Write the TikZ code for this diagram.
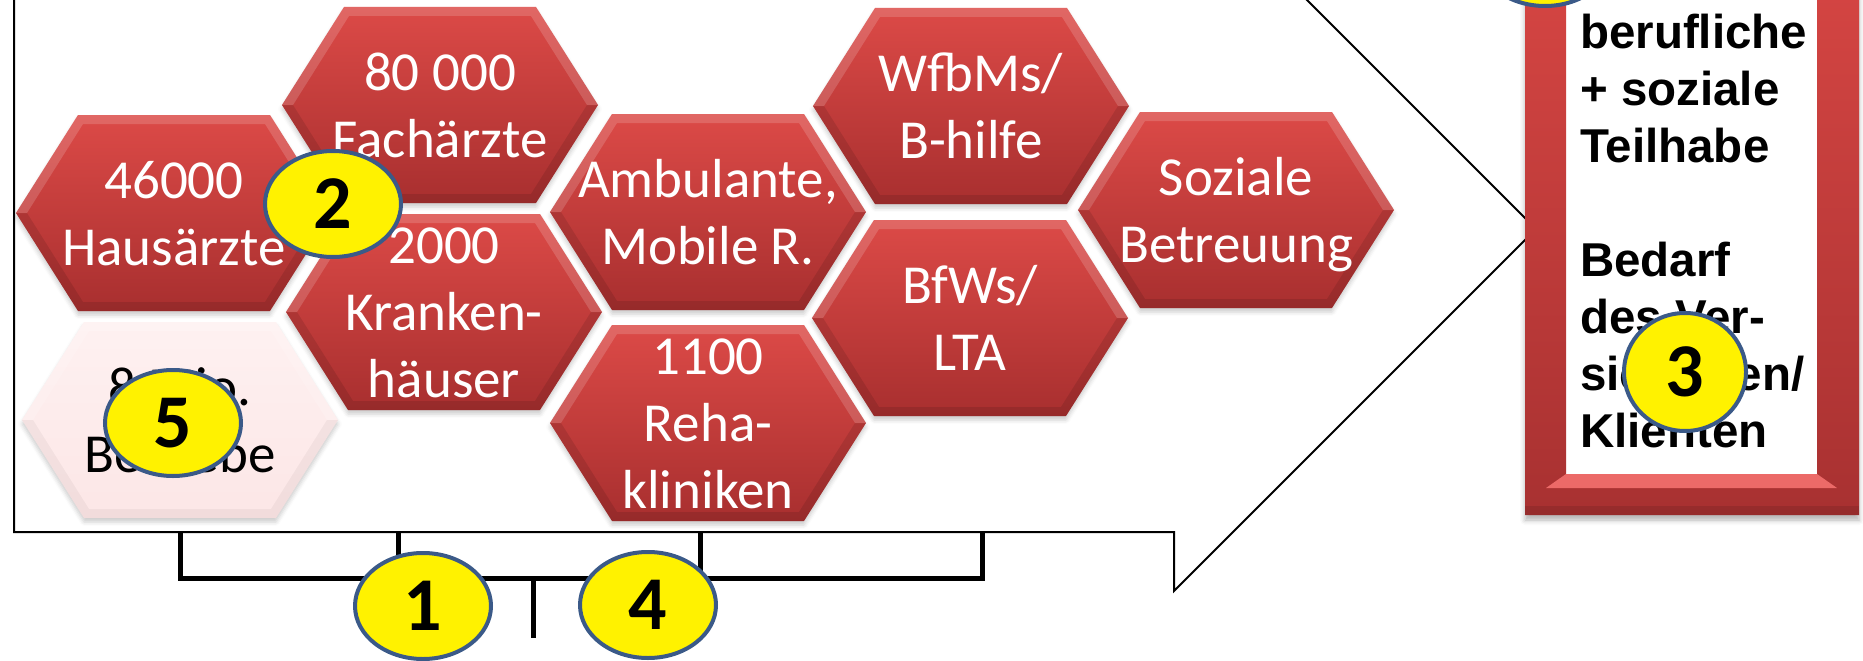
\documentclass[tikz,border=0pt]{standalone}
\usepackage{fontspec}
\setmainfont{Carlito}
\newfontfamily\boxfont{Liberation Sans}
\usetikzlibrary{shapes.geometric,shadows.blur}

\definecolor{hexTop}{HTML}{DC4A47}
\definecolor{hexBottom}{HTML}{A82F2F}
\definecolor{paleTop}{HTML}{FEF1F1}
\definecolor{paleBottom}{HTML}{FCE6E6}
\definecolor{badgeRim}{HTML}{3B5A88}
\definecolor{frameTop}{HTML}{DB4845}
\definecolor{frameBottom}{HTML}{A83131}
\definecolor{frameLight}{HTML}{EC6A68}

\newcommand\hexfont{\fontsize{55}{67}\selectfont}
\newcommand\badgefont{\fontsize{76}{80}\selectfont\bfseries}
% struts fix the baseline positions of every label line
\newcommand\hexstrut{\rule[-15pt]{0pt}{67pt}}
\newcommand\boxstrut{\rule[-14pt]{0pt}{57pt}}

% bevelled hexagon with a centred label: name, x, y, look, text
\newcommand\hexcell[5]{%
  \begin{scope}[shift={(#2,#3)}]
    \path[#4, hexshadow] (-158,0) -- (-96,-98) -- (96,-98) -- (158,0)
      -- (96,98) -- (-96,98) -- cycle;
    \fill[white, opacity=.16] (-158,0) -- (-96,-98) -- (96,-98) -- (158,0)
      -- (147,0) -- (91,-89) -- (-91,-89) -- (-147,0) -- cycle;
    \fill[#4 shade] (-158,0) -- (-96,98) -- (96,98) -- (158,0)
      -- (147,0) -- (91,89) -- (-91,89) -- (-147,0) -- cycle;
  \end{scope}
  \node[hexlabel, #4 text] (#1) at (#2,#3) {#5};
}

\begin{document}
\begin{tikzpicture}[x=1pt, y=-1pt,
  hexred/.style={top color=hexTop, bottom color=hexBottom},
  hexpale/.style={top color=paleTop, bottom color=paleBottom},
  hexred text/.style={text=white},
  hexpale text/.style={text=black},
  hexred shade/.style={black, opacity=.10},
  hexpale shade/.style={black, opacity=.04},
  hexshadow/.style={blur shadow={shadow xshift=0pt, shadow yshift=-4pt,
      shadow blur radius=4pt, shadow opacity=20}},
  hexlabel/.style={inner sep=0pt, align=center, font=\hexfont},
  boxtext/.style={inner sep=0pt, align=left,
      font={\boxfont\bfseries\fontsize{47.5}{57}\selectfont}},
  badge/.style={ellipse, fill=yellow, draw=badgeRim, line width=4pt,
      minimum width=136pt, minimum height=106pt, inner sep=0pt,
      font=\badgefont},
  outline/.style={line width=2pt, black, line join=miter},
  bracket/.style={line width=5pt, black},
]
\useasboundingbox (0,0) rectangle (1863,661);
\clip (0,0) rectangle (1863,661);

% large arrow enclosing the providers
\draw[outline] (14,-74) -- (14,532) -- (1174,532) -- (1174,591)
  -- (1536,229) -- (1174,-133) -- (1174,-74) -- cycle;

% providers
\hexcell{haus}{174}{213}{hexred}{\hexstrut 46000\\\hexstrut Hausärzte}
\hexcell{fach}{440}{105}{hexred}{\hexstrut 80 000\\\hexstrut Fachärzte}
\hexcell{kh}{444}{312}{hexred}{\hexstrut 2000\\\hexstrut Kranken-\\\hexstrut häuser}
\hexcell{betr}{180}{420}{hexpale}{\hexstrut 8 Mio.\\\hexstrut Betriebe}
\hexcell{amb}{708}{212}{hexred}{\hexstrut Ambulante,\\\hexstrut Mobile R.}
\hexcell{reha}{708}{423}{hexred}{\hexstrut 1100\\\hexstrut Reha-\\\hexstrut kliniken}
\hexcell{wfbm}{971}{106}{hexred}{\hexstrut WfbMs/\\\hexstrut B-hilfe}
\hexcell{bfw}{970}{318}{hexred}{\hexstrut BfWs/\\\hexstrut LTA}
\hexcell{soz}{1236}{210}{hexred}{\hexstrut Soziale\\\hexstrut Betreuung}

% brackets under the arrow
\coordinate (bA) at (180,532);
\coordinate (bB) at (398,532);
\coordinate (bC) at (700,532);
\coordinate (bD) at (982,532);
\coordinate (bM) at (533,578);
\coordinate (bT) at (533,638);
\draw[bracket] (bA) |- (bD |- bM) -- (bD);
\draw[bracket] (bB) -- (bB |- bM);
\draw[bracket] (bC) -- (bC |- bM);
\draw[bracket] (bM) -- (bT);

% picture frame on the right: shadow, white mat, red bevelled frame
\fill[white, blur shadow={shadow xshift=0pt, shadow yshift=-5pt,
      shadow blur radius=5pt, shadow opacity=30}]
  (1525,-100) rectangle (1859,515);
\path[even odd rule, top color=frameTop, bottom color=frameBottom]
  (1525,-100) rectangle (1859,515) (1566,-100) rectangle (1817,474);
\fill[frameLight] (1566,474) -- (1817,474) -- (1837,488) -- (1546,488) -- cycle;
\fill[black, opacity=.10] (1525,506) -- (1859,506) -- (1859,515) -- (1525,515) -- cycle;

\node[boxtext, anchor=north west] (goal) at (1580,5)
  {\boxstrut berufliche\\\boxstrut + soziale\\\boxstrut Teilhabe\\\boxstrut\\
   \boxstrut Bedarf\\\boxstrut des Ver-\\\boxstrut sicherten/\\\boxstrut Klienten};

% numbered markers
\node[badge] (n2) at (333,204) {2};
\node[badge] (n5) at (173,423) {5};
\node[badge] (n1) at (423,606) {1};
\node[badge] (n4) at (648,605) {4};
\node[badge, minimum width=122pt, minimum height=118pt] (n3) at (1685,372) {3};
\node[badge] (n0) at (1545,-47) {};
\end{tikzpicture}
\end{document}
